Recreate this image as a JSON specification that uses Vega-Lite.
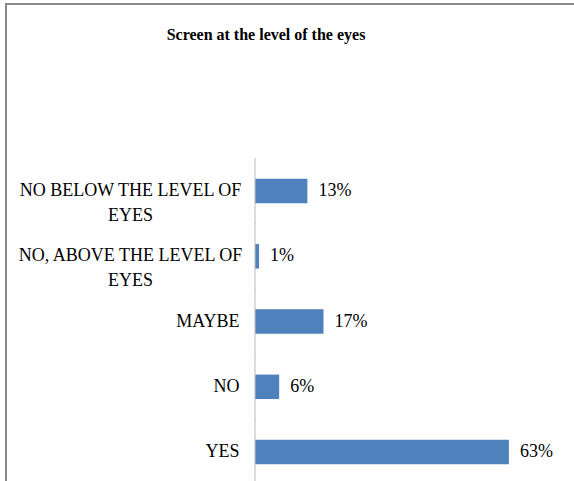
{
  "$schema": "https://vega.github.io/schema/vega-lite/v6.json",
  "width": 600,
  "height": 636,
  "autosize": {"type": "none"},
  "padding": {"left": 6, "top": 4, "right": 0, "bottom": 0},
  "background": "white",
  "config": {"view": {"stroke": "#898989", "strokeWidth": 2}, "font": "Liberation Serif"},
  "title": {
    "text": "Screen at the level of the eyes",
    "font": "Liberation Serif",
    "fontSize": 16,
    "fontWeight": "bold",
    "color": "black",
    "anchor": "middle",
    "frame": "group",
    "offset": -52,
    "dx": -40,
    "baseline": "alphabetic"
  },
  "data": {
    "values": [
      {"cat": "NO BELOW THE LEVEL OF EYES", "pct": 0.13},
      {"cat": "NO, ABOVE THE LEVEL OF EYES", "pct": 0.01},
      {"cat": "MAYBE", "pct": 0.17},
      {"cat": "NO", "pct": 0.06},
      {"cat": "YES", "pct": 0.63}
    ]
  },
  "encoding": {
    "y": {
      "field": "cat",
      "type": "nominal",
      "sort": null,
      "scale": {"range": [154.4, 480.7], "paddingInner": 0.625, "paddingOuter": 0.3125},
      "axis": {
        "title": null,
        "domain": false,
        "ticks": false,
        "offset": -249,
        "labelFont": "Liberation Serif",
        "labelFontSize": 18,
        "labelColor": "black",
        "labelLineHeight": 25,
        "labelBaseline": "middle",
        "labelLimit": 0,
        "labelAlign": {"condition": {"test": "indexof(datum.value, 'OF EYES') >= 0", "value": "center"}, "value": "right"},
        "labelPadding": {"condition": {"test": "indexof(datum.value, 'OF EYES') >= 0", "value": 125}, "value": 16},
        "labelExpr": "split(replace(datum.label, ' OF EYES', ' OF|EYES'), '|')"
      }
    }
  },
  "layer": [
    {
      "mark": {"type": "bar", "color": "#4F81BD"},
      "encoding": {
        "x": {"field": "pct", "type": "quantitative", "scale": {"domain": [-0.6179, 0.871], "nice": false, "zero": false}, "axis": null}
      }
    },
    {
      "mark": {"type": "text", "align": "left", "baseline": "middle", "dx": 11, "fontSize": 18, "font": "Liberation Serif", "color": "black"},
      "encoding": {
        "x": {"field": "pct", "type": "quantitative"},
        "text": {"field": "pct", "type": "quantitative", "format": ".0%"}
      }
    },
    {
      "mark": {"type": "tick", "color": "#BFBFBF", "thickness": 1.5, "size": 66, "orient": "vertical"},
      "encoding": {
        "x": {"datum": 0, "type": "quantitative"}
      }
    }
  ]
}
